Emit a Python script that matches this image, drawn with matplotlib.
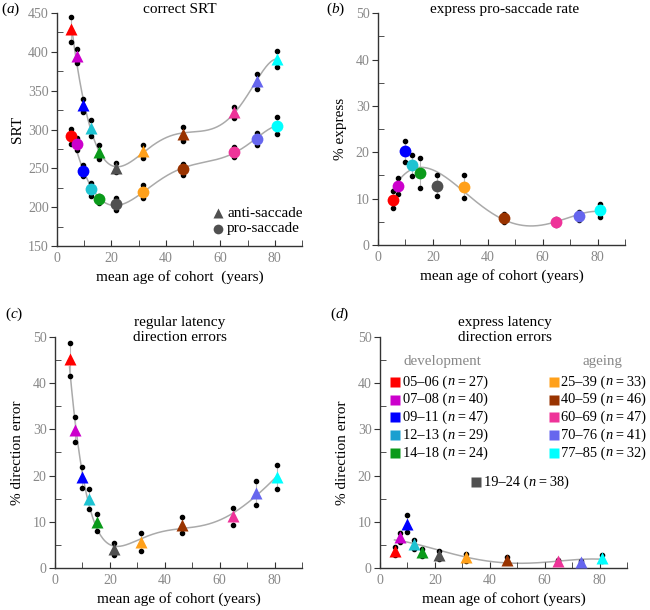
import matplotlib
matplotlib.use("Agg")
import matplotlib.pyplot as plt
import numpy as np
from matplotlib.ticker import MultipleLocator

plt.rcParams["font.family"] = ["Liberation Serif", "DejaVu Serif"]
plt.rcParams["mathtext.fontset"] = "custom"
plt.rcParams["mathtext.it"] = "Liberation Serif:italic"
plt.rcParams["mathtext.rm"] = "Liberation Serif"

# cohort data
ages = [5.3, 7.3, 9.7, 12.5, 15.4, 21.6, 31.5, 46.1, 65.0, 73.3, 80.8]
colors = ["#ff0000", "#cc00cc", "#0000ff", "#1ec3d2", "#0a9a1a", "#505050",
          "#ffa01a", "#993300", "#ee3399", "#6666ee", "#00ffff"]
legend_colors = ["#ff0000", "#cc00cc", "#0000ff", "#1a9fd0", "#0a9a1a", "#505050",
                 "#ffa01a", "#993300", "#ee3399", "#6666ee", "#00ffff"]
groups = ["05–06", "07–08", "09–11", "12–13", "14–18", "19–24",
          "25–39", "40–59", "60–69", "70–76", "77–85"]
n_subj = [27, 40, 47, 29, 24, 38, 33, 46, 47, 41, 32]

# (a) correct SRT
anti_srt = [429, 394, 331, 302, 271, 251, 272, 294, 322, 362, 391]
anti_srt_err = [16, 9, 8, 10, 9.5, 6, 8.5, 9, 7, 9.5, 10.5]
pro_srt = [291, 281, 247, 223, 210, 204, 220, 249, 271, 288, 305]
pro_srt_err = [10, 7.5, 7, 8.5, 4, 7.5, 8.5, 7, 7, 7.5, 10.5]
# (b) express pro-saccade rate
express = [9.8, 12.8, 20.2, 17.2, 15.6, 12.8, 12.6, 5.8, 5.0, 6.2, 7.5]
express_err = [1.8, 1.7, 2.2, 2.3, 3.2, 2.2, 2.5, 0.9, 0.6, 0.9, 1.4]
# (c) regular latency direction errors
reg_err = [45.2, 29.9, 19.6, 15.0, 9.9, 4.1, 5.6, 9.3, 11.2, 16.2, 19.7]
reg_err_sem = [3.6, 2.7, 2.2, 2.2, 1.8, 1.2, 1.9, 1.8, 1.8, 2.6, 2.5]
# (d) express latency direction errors
exp_err = [3.6, 6.6, 9.6, 5.1, 3.4, 2.8, 2.3, 1.8, 1.5, 1.3, 2.2]
exp_err_sem = [0.9, 0.9, 1.8, 1.0, 0.8, 0.9, 0.8, 0.5, 0.3, 0.3, 0.6]

fig = plt.figure(figsize=(6.5, 6.1), dpi=100)
ax_a = fig.add_axes([0.0877, 0.5967, 0.377, 0.382])
ax_b = fig.add_axes([0.5815, 0.5983, 0.38, 0.380])
ax_c = fig.add_axes([0.0846, 0.0689, 0.380, 0.3786])
ax_d = fig.add_axes([0.5846, 0.0689, 0.380, 0.3786])

TICK_FS = 10
LAB_FS = 11


def style(ax, ylim, ymaj, ymin):
    ax.set_xlim(0, 90)
    ax.set_ylim(*ylim)
    for s in ["top", "right"]:
        ax.spines[s].set_visible(False)
    for s in ["left", "bottom"]:
        ax.spines[s].set_color("#333333")
        ax.spines[s].set_linewidth(1.0)
    ax.xaxis.set_major_locator(MultipleLocator(20))
    ax.xaxis.set_minor_locator(MultipleLocator(10))
    ax.yaxis.set_major_locator(MultipleLocator(ymaj))
    ax.yaxis.set_minor_locator(MultipleLocator(ymin))
    ax.tick_params(axis="x", which="both", direction="in", length=4,
                   color="#333333", labelcolor="#888888", labelsize=TICK_FS, pad=4)
    ax.tick_params(axis="y", which="major", direction="out", length=4,
                   color="#333333", labelcolor="#888888", labelsize=TICK_FS, pad=2)
    ax.tick_params(axis="y", which="minor", direction="in", length=4,
                   color="#333333")
    ax.patch.set_alpha(0)


def fit_line(ax, y, deg):
    coef = np.polyfit(ages, y, deg)
    xs = np.linspace(min(ages), max(ages), 300)
    ax.plot(xs, np.polyval(coef, xs), color="#aaaaaa", lw=1.1, zorder=1)


def points(ax, y, err, marker, ms):
    for x, v, e, c in zip(ages, y, err, colors):
        ax.plot([x, x], [v - e, v + e], color="#bbbbbb", lw=0.8, zorder=2)
        ax.plot([x, x], [v - e, v + e], "o", color="black", ms=3, zorder=3)
        ax.plot(x, v, marker, color=c, ms=ms, mec="none", zorder=4)


def cohort_label(ax, x, y, i, fs):
    # "05–06 (n = 27)" with italic n, built from chained texts
    t1 = ax.text(x, y, groups[i] + " (", fontsize=fs, va="center", clip_on=False)
    t2 = ax.annotate("n", xy=(1, 0.5), xycoords=t1, va="center", ha="left",
                     fontsize=fs, style="italic")
    ax.annotate("\u2009=\u2009%d)" % n_subj[i], xy=(1, 0.5), xycoords=t2,
                va="center", ha="left", fontsize=fs)


# (a)
style(ax_a, (150, 450), 50, 25)
fit_line(ax_a, anti_srt, 6)
fit_line(ax_a, pro_srt, 6)
points(ax_a, anti_srt, anti_srt_err, "^", 8.5)
points(ax_a, pro_srt, pro_srt_err, "o", 8.5)
ax_a.plot(59, 192, "^", color="#505050", ms=7, mec="none")
ax_a.plot(59, 172, "o", color="#505050", ms=7, mec="none")
ax_a.text(62.5, 192, "anti-saccade", fontsize=LAB_FS, va="center")
ax_a.text(62.5, 172, "pro-saccade", fontsize=LAB_FS, va="center")
ax_a.set_ylabel("SRT", fontsize=LAB_FS, labelpad=3)
ax_a.set_xlabel("mean age of cohort  (years)", fontsize=LAB_FS, labelpad=4)

# (b)
style(ax_b, (0, 50), 10, 5)
fit_line(ax_b, express, 4)
points(ax_b, express, express_err, "o", 8.5)
ax_b.set_ylabel("% express", fontsize=LAB_FS, labelpad=6)
ax_b.set_xlabel("mean age of cohort (years)", fontsize=LAB_FS, labelpad=4)

# (c)
style(ax_c, (0, 50), 10, 5)
fit_line(ax_c, reg_err, 6)
points(ax_c, reg_err, reg_err_sem, "^", 8.5)
ax_c.set_ylabel("% direction error", fontsize=LAB_FS, labelpad=6)
ax_c.set_xlabel("mean age of cohort (years)", fontsize=LAB_FS, labelpad=4)

# (d)
style(ax_d, (0, 50), 10, 5)
fit_line(ax_d, exp_err, 4)
points(ax_d, exp_err, exp_err_sem, "^", 8.5)
ax_d.set_ylabel("% direction error", fontsize=LAB_FS, labelpad=6)
ax_d.set_xlabel("mean age of cohort (years)", fontsize=LAB_FS, labelpad=4)

# legend of cohorts in (d)
LEG_FS = 10.4
ax_d.text(22.8, 44.6, "development", fontsize=10.8, color="#888888", ha="center", va="center")
ax_d.text(81.2, 44.6, "ageing", fontsize=10.8, color="#888888", ha="center", va="center")
for i in range(5):
    yy = 40.3 - i * 3.85
    ax_d.plot(5.5, yy, "s", color=legend_colors[i], ms=7, mec="none", clip_on=False)
    cohort_label(ax_d, 8.5, yy, i, LEG_FS)
    j = i + 6
    ax_d.plot(63.5, yy, "s", color=legend_colors[j], ms=7, mec="none", clip_on=False)
    cohort_label(ax_d, 66.1, yy, j, LEG_FS)
ax_d.plot(34.9, 18.6, "s", color=legend_colors[5], ms=7, mec="none")
cohort_label(ax_d, 37.9, 18.6, 5, LEG_FS)

# titles and panel letters
fig.text(0.277, 0.984, "correct SRT", fontsize=LAB_FS, ha="center", va="center")
fig.text(0.777, 0.984, "express pro-saccade rate", fontsize=LAB_FS, ha="center", va="center")
fig.text(0.277, 0.459, "regular latency\ndirection errors", fontsize=LAB_FS, ha="center",
         va="center", linespacing=1.15)
fig.text(0.777, 0.459, "express latency\ndirection errors", fontsize=LAB_FS, ha="center",
         va="center", linespacing=1.15)
for x, y, s in [(0.002, 0.984, "a"), (0.502, 0.984, "b"), (0.008, 0.484, "c"), (0.508, 0.484, "d")]:
    fig.text(x, y, "(" + "$\\it{%s}$" % s + ")", fontsize=LAB_FS, va="center")

fig.savefig("out.png", dpi=100)
